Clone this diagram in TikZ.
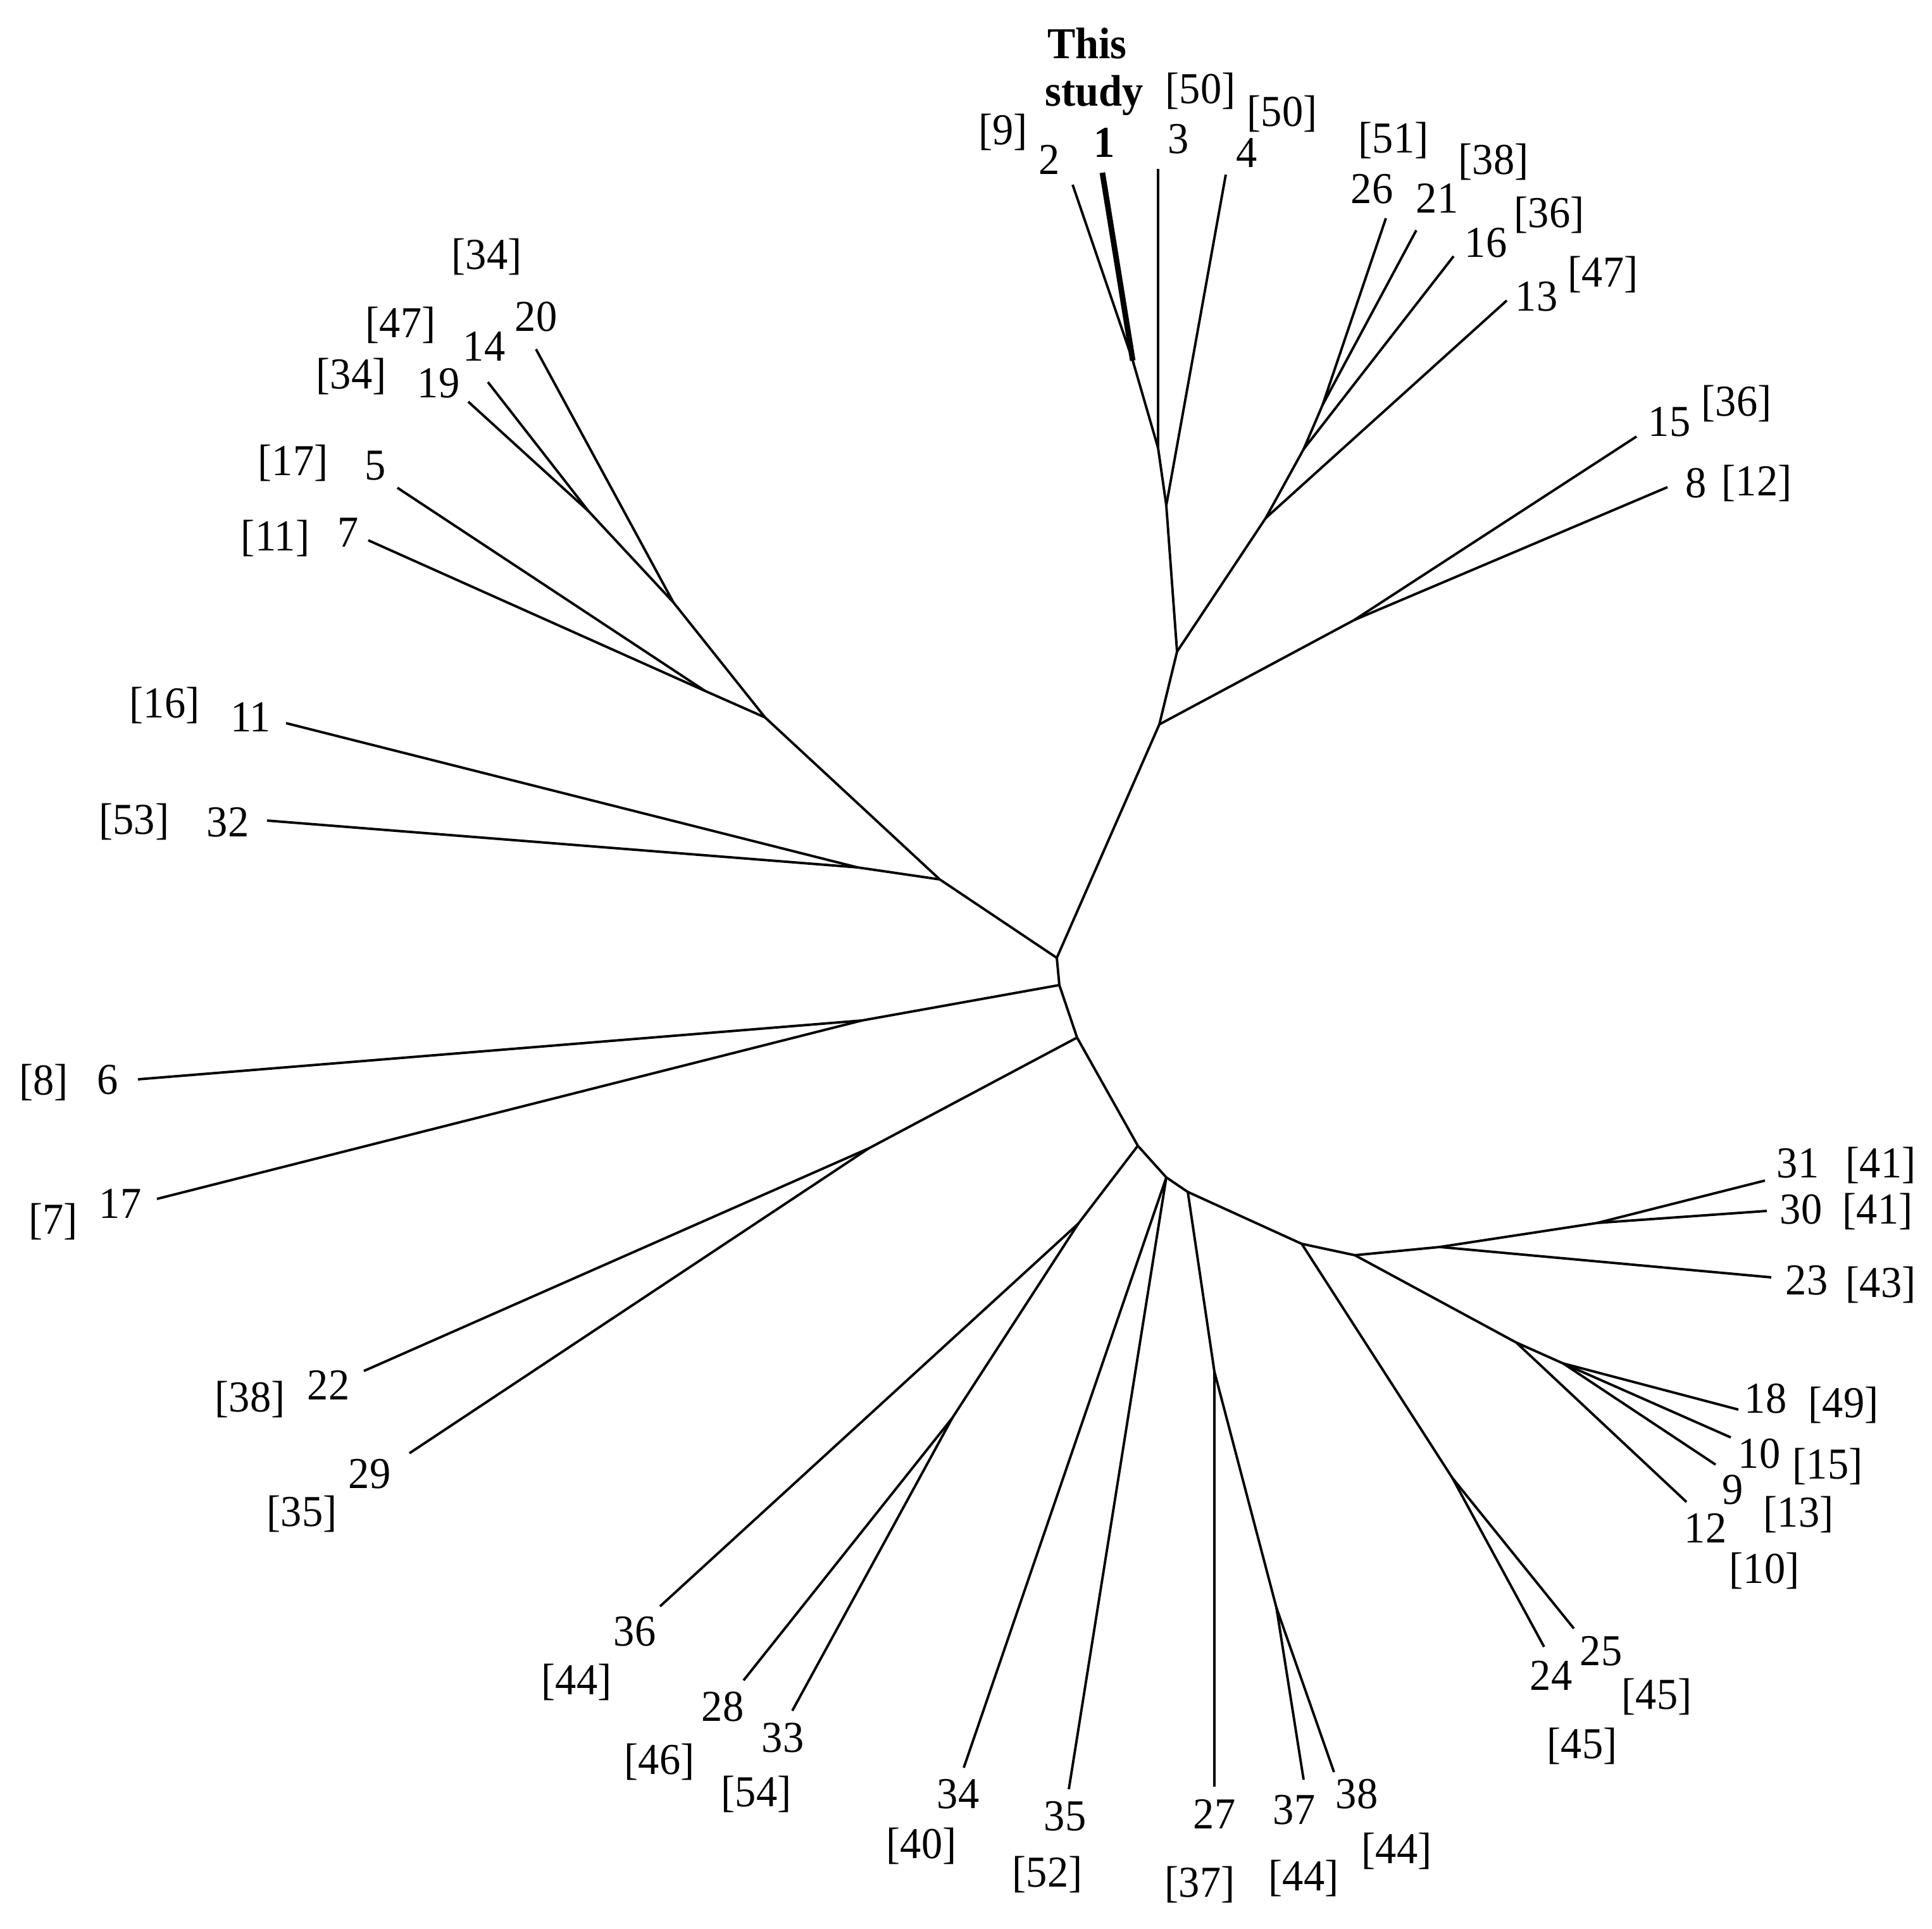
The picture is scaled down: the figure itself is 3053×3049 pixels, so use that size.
\documentclass[tikz,border=0pt]{standalone}
\usepackage{graphicx}
\usepackage{fontspec}
\setmainfont{Liberation Serif}
\begin{document}
\begin{tikzpicture}[x=0.01cm,y=-0.01cm,
  branch/.style={line width=1.1pt, line join=round},
  thickbranch/.style={line width=2.5pt},
  lab/.style={font=\fontsize{18.9}{22}\selectfont, inner sep=0pt, anchor=base,
    execute at begin node={\setbox0=\hbox\bgroup},
    execute at end node={\egroup\scalebox{1}[1.05]{\box0}}},
  blab/.style={lab, font=\fontsize{18.9}{22}\selectfont\bfseries}]
\useasboundingbox (0,0) rectangle (3053,3049);
% backbone
\coordinate (A) at (1670,1514);
\coordinate (B) at (1674,1557);
\coordinate (C) at (1702,1640);
\coordinate (D) at (1798,1811);
\coordinate (E) at (1843,1861);
\coordinate (F) at (1877,1884);
\coordinate (G) at (2057,1966);
\coordinate (H) at (2141,1984);
% top clade
\coordinate (T0) at (1832,1145);
\coordinate (T1) at (1860,1030);
\coordinate (T2) at (1843,799);
\coordinate (T3) at (1830,708);
\coordinate (T4) at (1790,570);
\coordinate (T5) at (2000,819);
\coordinate (T6) at (2060,710);
\coordinate (T7) at (2090,640);
\coordinate (T8) at (2140,980);
\coordinate (e1) at (1742,273);
\coordinate (e2) at (1695,292);
\coordinate (e3) at (1830,267);
\coordinate (e4) at (1937,276);
\coordinate (e26) at (2190,345);
\coordinate (e21) at (2238,364);
\coordinate (e16) at (2297,405);
\coordinate (e13) at (2381,475);
\coordinate (e15) at (2586,690);
\coordinate (e8) at (2635,770);
% upper-left clade
\coordinate (U1) at (930,808);
\coordinate (U2) at (1064,952);
\coordinate (U3) at (1114,1092);
\coordinate (U4) at (1209,1134);
\coordinate (U5) at (1355,1371);
\coordinate (U6) at (1485,1390);
\coordinate (e20) at (847,552);
\coordinate (e14) at (771,604);
\coordinate (e19) at (740,635);
\coordinate (e5) at (628,771);
\coordinate (e7) at (582,854);
\coordinate (e11) at (452,1143);
\coordinate (e32) at (422,1297);
% left
\coordinate (B1) at (1362,1613);
\coordinate (e6) at (218,1706);
\coordinate (e17) at (248,1895);
\coordinate (C1) at (1373,1815);
\coordinate (e22) at (575,2167);
\coordinate (e29) at (647,2297);
% bottom
\coordinate (D2) at (1704,1934);
\coordinate (D3) at (1505,2241);
\coordinate (e36) at (1043,2539);
\coordinate (e28) at (1175,2656);
\coordinate (e33) at (1252,2704);
\coordinate (e34) at (1523,2794);
\coordinate (e35) at (1689,2828);
\coordinate (F1) at (1919,2168);
\coordinate (F2) at (2017,2541);
\coordinate (e27) at (1919,2824);
\coordinate (e37) at (2060,2813);
\coordinate (e38) at (2108,2801);
% right
\coordinate (G1) at (2295,2336);
\coordinate (e24) at (2440,2603);
\coordinate (e25) at (2487,2574);
\coordinate (H1) at (2275,1971);
\coordinate (H2) at (2524,1933);
\coordinate (e23) at (2799,2019);
\coordinate (e31) at (2789,1866);
\coordinate (e30) at (2792,1914);
\coordinate (H3) at (2396,2122);
\coordinate (H4) at (2470,2155);
\coordinate (e12) at (2665,2374);
\coordinate (e18) at (2747,2228);
\coordinate (e10) at (2735,2272);
\coordinate (e9) at (2711,2315);

% branches
\draw[branch] (A) -- (B) -- (C) -- (D) -- (E) -- (F) -- (G) -- (H);
\draw[branch] (A) -- (T0) -- (T1) -- (T2) -- (T3) -- (T4) -- (e2);
\draw[thickbranch] (T4) -- (e1);
\draw[branch] (T3) -- (e3);
\draw[branch] (T2) -- (e4);
\draw[branch] (T1) -- (T5) -- (T6) -- (T7) -- (e26);
\draw[branch] (T7) -- (e21);
\draw[branch] (T6) -- (e16);
\draw[branch] (T5) -- (e13);
\draw[branch] (T0) -- (T8) -- (e15);
\draw[branch] (T8) -- (e8);
\draw[branch] (A) -- (U6) -- (U4) -- (U2) -- (U1) -- (e19);
\draw[branch] (U1) -- (e14);
\draw[branch] (U2) -- (e20);
\draw[branch] (U4) -- (U3) -- (e5);
\draw[branch] (U3) -- (e7);
\draw[branch] (U6) -- (U5) -- (e11);
\draw[branch] (U5) -- (e32);
\draw[branch] (B) -- (B1) -- (e6);
\draw[branch] (B1) -- (e17);
\draw[branch] (C) -- (C1) -- (e22);
\draw[branch] (C1) -- (e29);
\draw[branch] (D) -- (D2) -- (e36);
\draw[branch] (D2) -- (D3) -- (e28);
\draw[branch] (D3) -- (e33);
\draw[branch] (E) -- (e34);
\draw[branch] (E) -- (e35);
\draw[branch] (F) -- (F1) -- (e27);
\draw[branch] (F1) -- (F2) -- (e37);
\draw[branch] (F2) -- (e38);
\draw[branch] (G) -- (G1) -- (e24);
\draw[branch] (G1) -- (e25);
\draw[branch] (H) -- (H1) -- (e23);
\draw[branch] (H1) -- (H2) -- (e31);
\draw[branch] (H2) -- (e30);
\draw[branch] (H) -- (H3) -- (e12);
\draw[branch] (H3) -- (H4) -- (e18);
\draw[branch] (H4) -- (e10);
\draw[branch] (H4) -- (e9);

% labels top
\node[blab] (ts1) at (1718,93) {This};
\node[blab] (ts2) at (1729,168) {study};
\node[lab] (r2) at (1585,229) {[9]};
\node[lab] (l2) at (1658,276) {2};
\node[blab] (l1) at (1745,249) {1};
\node[lab] (l3) at (1862,243) {3};
\node[lab] (r3) at (1897,164) {[50]};
\node[lab] (r4) at (2026,200) {[50]};
\node[lab] (l4) at (1970,265) {4};
\node[lab] (r26) at (2202,242) {[51]};
\node[lab] (l26) at (2168,322) {26};
\node[lab] (r21) at (2360,276) {[38]};
\node[lab] (l21) at (2271,337) {21};
\node[lab] (r16) at (2448,360) {[36]};
\node[lab] (l16) at (2348,407) {16};
\node[lab] (r13) at (2533,454) {[47]};
\node[lab] (l13) at (2428,492) {13};
\node[lab] (r15) at (2744,658) {[36]};
\node[lab] (l15) at (2638,690) {15};
\node[lab] (l8) at (2680,787) {8};
\node[lab] (r8) at (2776,784) {[12]};
% upper left
\node[lab] (r20) at (769,426) {[34]};
\node[lab] (r14) at (633,534) {[47]};
\node[lab] (l20) at (847,524) {20};
\node[lab] (l14) at (765,571) {14};
\node[lab] (r19) at (555,615) {[34]};
\node[lab] (l19) at (693,629) {19};
\node[lab] (r5) at (463,752) {[17]};
\node[lab] (l5) at (593,759) {5};
\node[lab] (r7) at (435,871) {[11]};
\node[lab] (l7) at (550,865) {7};
\node[lab] (r11) at (260,1135) {[16]};
\node[lab] (l11) at (396,1157) {11};
\node[lab] (r32) at (212,1318) {[53]};
\node[lab] (l32) at (360,1323) {32};
% left
\node[lab] (r6) at (69,1730) {[8]};
\node[lab] (l6) at (170,1729) {6};
\node[lab] (r17) at (84,1950) {[7]};
\node[lab] (l17) at (190,1925) {17};
\node[lab] (r22) at (395,2231) {[38]};
\node[lab] (l22) at (519,2212) {22};
\node[lab] (r29) at (477,2412) {[35]};
\node[lab] (l29) at (584,2352) {29};
% bottom
\node[lab] (l36) at (1003,2601) {36};
\node[lab] (r36) at (911,2678) {[44]};
\node[lab] (l28) at (1142,2720) {28};
\node[lab] (r28) at (1042,2804) {[46]};
\node[lab] (l33) at (1237,2769) {33};
\node[lab] (r33) at (1195,2855) {[54]};
\node[lab] (l34) at (1514,2858) {34};
\node[lab] (r34) at (1456,2937) {[40]};
\node[lab] (l35) at (1683,2893) {35};
\node[lab] (r35) at (1655,2982) {[52]};
\node[lab] (l27) at (1919,2890) {27};
\node[lab] (r27) at (1896,2998) {[37]};
\node[lab] (l37) at (2045,2883) {37};
\node[lab] (r37) at (2060,2988) {[44]};
\node[lab] (l38) at (2144,2858) {38};
\node[lab] (r38) at (2207,2945) {[44]};
% right
\node[lab] (l24) at (2451,2671) {24};
\node[lab] (l25) at (2530,2632) {25};
\node[lab] (r25) at (2618,2701) {[45]};
\node[lab] (r24) at (2500,2779) {[45]};
\node[lab] (l31) at (2841,1861) {31};
\node[lab] (r31) at (2972,1861) {[41]};
\node[lab] (l30) at (2846,1934) {30};
\node[lab] (r30) at (2967,1934) {[41]};
\node[lab] (l23) at (2855,2046) {23};
\node[lab] (r23) at (2972,2050) {[43]};
\node[lab] (l18) at (2790,2233) {18};
\node[lab] (r18) at (2913,2240) {[49]};
\node[lab] (l10) at (2780,2320) {10};
\node[lab] (r10) at (2888,2337) {[15]};
\node[lab] (l9) at (2738,2377) {9};
\node[lab] (r9) at (2842,2413) {[13]};
\node[lab] (l12) at (2695,2438) {12};
\node[lab] (r12) at (2788,2502) {[10]};
\end{tikzpicture}
\end{document}
